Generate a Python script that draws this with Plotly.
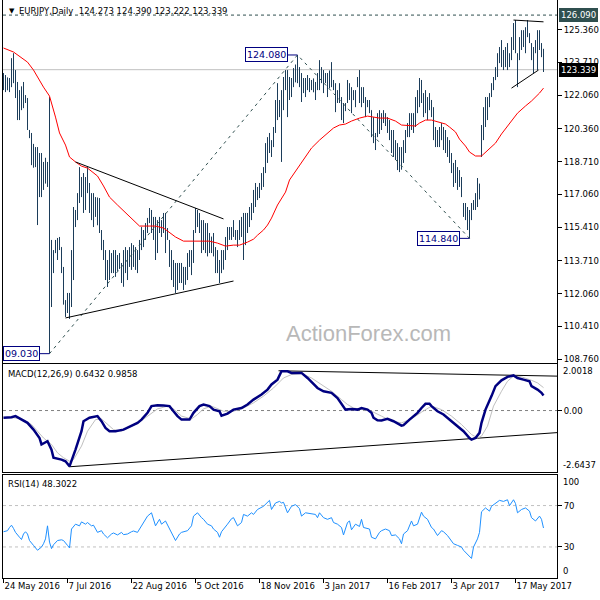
import numpy as np
import pandas as pd
import plotly.graph_objects as go

# ---------------- data ----------------
high = [123.17,123.07,122.95,122.92,123.92,124.17,123.32,122.72,122.31,122.50,
        122.72,122.06,121.91,120.30,120.15,119.60,119.44,119.44,119.14,119.14,
        118.69,118.90,118.69,121.96,114.76,114.25,114.76,114.86,114.91,114.40,
        113.40,111.73,112.09,112.09,114.25,116.42,116.27,117.12,118.43,117.93,
        118.13,117.93,118.43,117.63,117.12,117.12,116.92,116.90,116.87,115.26,
        114.76,114.25,113.75,114.25,114.10,114.25,114.25,114.00,114.10,113.60,
        114.25,114.40,114.25,114.40,114.60,114.50,114.40,114.25,114.76,115.41,
        115.26,115.61,115.87,116.37,116.27,115.92,115.92,115.76,115.92,115.76,
        116.12,116.12,115.36,114.76,114.25,113.75,113.60,113.60,113.60,113.60,
        113.40,113.40,114.10,114.25,114.25,115.26,116.37,116.27,116.12,115.76,
        115.76,115.61,115.61,115.11,114.93,115.11,114.40,114.25,113.75,114.25,
        114.25,114.91,115.41,115.41,115.41,115.76,115.26,115.26,115.76,115.92,
        116.12,116.12,116.12,116.42,116.62,117.28,117.63,117.43,117.63,118.13,
        118.43,119.64,119.94,120.15,119.79,120.45,121.81,122.66,121.81,122.31,
        122.97,123.32,123.32,122.97,122.92,123.42,123.60,124.08,123.47,123.17,
        122.92,122.92,123.07,122.92,122.82,122.90,122.72,123.17,123.82,123.47,
        123.32,123.17,123.17,123.30,123.72,122.82,122.66,122.31,122.66,121.96,
        121.66,121.66,122.82,122.66,122.46,122.31,122.31,122.97,123.32,122.46,
        122.46,121.96,121.81,121.81,121.30,120.95,120.15,121.15,121.30,121.15,
        121.30,121.15,120.95,120.80,120.30,120.30,119.79,119.64,119.44,119.44,
        119.79,120.30,120.65,121.15,121.15,121.15,121.96,122.31,122.92,122.82,
        122.16,122.31,121.96,122.16,121.81,121.45,120.45,120.30,120.45,120.65,
        120.45,120.30,119.94,119.79,119.14,118.64,118.79,118.43,118.28,117.93,
        116.62,116.62,116.42,116.27,116.62,116.77,117.12,117.88,117.60,120.55,
        121.45,121.96,121.96,122.16,122.66,122.97,123.47,124.17,124.48,124.83,
        124.33,124.48,124.68,124.17,124.98,125.69,125.84,124.17,124.98,125.33,
        125.33,125.48,125.84,125.18,124.68,124.48,124.83,125.33,125.33,124.68,124.390]
low = [122.31,122.21,122.30,122.21,122.46,122.66,121.91,120.80,120.80,121.30,
       121.40,121.66,120.30,119.89,118.53,118.40,118.43,115.51,116.92,116.92,
       117.28,117.60,117.43,109.03,111.38,113.09,114.10,113.75,114.25,113.09,
       111.50,110.88,111.08,110.78,111.38,112.74,115.41,115.76,116.62,116.92,
       116.12,116.27,117.12,116.12,115.76,115.41,115.92,115.50,115.11,114.25,
       113.75,112.74,112.39,112.74,113.09,113.09,112.90,113.20,113.30,112.59,
       112.40,113.09,112.74,113.40,113.25,113.40,113.25,113.09,113.75,114.25,
       114.40,114.76,115.11,115.61,115.11,114.76,113.75,114.10,115.11,114.91,
       115.11,114.10,114.76,113.40,112.74,112.39,112.09,112.24,112.59,112.59,
       112.24,112.50,112.74,113.40,112.99,113.60,115.11,115.41,115.11,114.10,
       114.25,114.10,113.93,114.10,114.10,113.93,113.09,113.09,112.59,113.09,
       113.26,113.75,114.25,114.76,114.76,114.91,114.76,114.40,114.76,114.91,
       113.75,114.50,115.11,115.41,115.76,116.12,116.42,116.77,116.87,117.28,
       117.43,118.13,118.64,119.14,118.94,119.44,120.15,120.80,120.95,118.69,
       121.30,122.31,120.95,121.81,121.96,122.46,122.70,122.66,122.46,121.71,
       122.16,121.96,122.31,122.21,122.31,122.20,121.81,122.31,122.31,122.66,
       122.16,122.66,121.96,122.40,122.46,122.31,121.20,121.66,121.66,120.80,
       120.65,121.25,121.66,121.81,121.15,121.81,121.45,122.46,121.66,121.45,
       121.66,120.95,121.45,121.15,119.94,119.64,119.29,119.94,120.10,120.30,
       120.65,120.50,120.15,119.79,119.14,118.94,118.79,118.28,118.18,118.30,
       118.64,119.14,119.94,119.94,120.30,120.15,120.45,121.15,121.45,121.66,
       120.95,121.15,120.80,121.30,120.95,119.79,119.44,119.44,119.44,119.79,
       119.29,119.14,118.94,118.64,118.13,117.43,117.63,117.28,117.43,116.92,
       115.92,115.76,115.26,114.84,115.76,116.27,116.27,116.42,116.80,118.94,
       119.79,120.45,120.80,121.45,121.96,122.31,122.82,122.97,123.67,123.47,
       123.32,123.47,123.32,123.47,123.82,124.33,124.17,122.46,123.82,124.33,
       124.48,124.17,124.98,124.68,123.82,123.17,124.17,123.32,124.33,123.97,123.222]
open_ = [122.40,122.90,122.40,122.80,122.60,123.70,122.90,122.10,121.20,121.90,
         122.20,121.80,121.90,120.30,120.00,118.80,119.30,118.60,117.60,118.90,
         117.40,118.30,117.90,118.60,113.30,113.20,114.10,114.50,114.30,114.40,
         113.30,111.70,111.20,111.90,111.50,114.00,116.00,115.80,116.90,117.60,
         117.20,116.50,117.70,117.40,116.40,116.90,115.80,116.60,115.80,115.20,
         114.40,114.00,112.90,113.40,113.90,113.30,114.00,113.20,113.80,113.50,
         112.90,113.90,113.50,113.50,114.20,113.60,114.10,113.50,113.90,114.60,
         115.10,114.80,115.40,115.70,116.00,115.40,115.60,114.20,115.50,115.40,
         115.60,115.30,114.90,114.70,113.60,113.00,113.30,112.40,113.20,112.80,
         113.40,112.60,113.10,113.90,113.60,114.00,115.20,116.10,115.60,115.70,
         114.40,115.50,114.50,115.10,114.30,114.70,114.20,113.40,113.70,113.10,
         113.90,113.80,114.80,115.20,114.90,115.20,115.00,114.90,114.80,115.60,
         115.10,115.90,115.20,115.90,116.20,116.40,117.10,117.00,117.20,117.50,
         118.00,118.30,119.50,119.20,119.70,119.50,120.30,121.60,121.20,120.50,
         122.00,122.60,122.90,122.60,122.10,122.70,123.20,123.00,123.40,122.70,
         122.50,122.40,122.70,122.50,122.60,122.40,122.30,122.50,123.00,122.70,
         123.10,122.70,123.00,122.40,123.00,122.60,122.50,121.70,122.00,121.90,
         121.00,121.40,121.70,122.40,122.00,121.80,122.10,122.50,122.80,121.90,
         122.20,121.80,121.50,121.60,121.30,120.20,120.00,119.90,120.90,120.40,
         120.90,121.00,120.70,120.40,119.90,119.50,119.70,119.00,118.50,118.90,
         119.20,119.60,120.10,120.40,120.90,120.60,120.90,121.80,122.00,121.80,
         122.10,121.20,121.90,121.30,121.80,121.20,120.00,119.80,120.10,119.80,
         120.40,119.50,119.90,119.20,118.90,118.30,117.70,118.40,117.50,117.90,
         116.50,116.20,116.00,115.60,116.00,116.40,116.50,116.90,117.30,119.40,
         120.20,121.10,121.40,121.70,122.00,122.50,122.80,123.30,124.00,124.10,
         123.80,124.00,123.80,124.10,123.90,124.80,125.50,124.10,123.90,124.80,
         124.90,125.10,125.00,125.10,124.60,124.00,124.20,124.70,124.40,124.60,124.273]
close = [122.90,122.40,122.80,122.60,123.70,122.90,122.10,121.20,121.90,122.20,
         121.80,121.90,120.40,120.00,118.80,119.30,118.60,117.60,118.90,117.40,
         118.30,117.90,118.50,113.30,112.00,114.00,114.50,114.00,114.70,113.30,
         111.80,111.10,111.90,111.00,114.00,116.20,115.70,116.90,117.60,117.20,
         116.50,117.70,117.40,116.40,116.90,115.70,116.60,115.80,115.30,114.40,
         114.00,112.90,113.40,113.90,113.30,114.00,113.20,113.80,113.50,112.90,
         113.90,113.50,113.00,114.20,113.60,114.10,113.50,113.90,114.60,115.10,
         114.70,115.40,115.70,116.00,115.40,115.60,114.20,115.50,115.40,115.60,
         115.30,114.90,115.10,113.60,113.00,113.30,112.40,113.20,112.80,113.40,
         112.60,113.10,113.90,113.60,114.00,115.10,116.10,115.60,115.90,114.40,
         115.50,114.50,115.30,114.30,114.70,114.20,113.40,113.90,113.10,113.90,
         113.60,114.80,115.20,114.90,115.20,115.00,114.90,114.60,115.60,115.10,
         115.90,115.00,115.90,116.20,116.40,117.10,117.00,117.20,117.50,118.00,
         118.30,119.50,119.00,119.80,119.20,120.30,121.60,121.20,121.40,122.00,
         122.60,122.90,122.60,122.10,122.70,123.20,123.00,123.60,122.70,122.50,
         122.40,122.70,122.50,122.60,122.40,122.30,122.50,123.00,122.70,123.10,
         122.30,123.00,122.40,123.00,122.60,122.50,121.50,122.00,121.90,121.00,
         121.40,121.50,122.40,122.00,121.60,122.10,121.80,122.80,121.90,122.20,
         121.80,121.30,121.60,121.30,120.20,120.00,119.60,120.90,120.40,120.90,
         121.00,120.70,120.40,119.90,119.50,119.90,119.00,118.50,118.90,119.20,
         119.60,120.10,120.40,120.90,120.60,120.90,121.80,122.00,121.80,122.40,
         121.20,122.00,121.20,121.90,121.20,120.00,119.80,120.10,119.70,120.40,
         119.50,119.90,119.20,118.90,118.30,117.60,118.40,117.50,117.90,117.00,
         116.20,116.00,115.60,116.00,116.40,116.50,116.90,117.30,117.40,120.20,
         121.10,121.40,121.70,122.00,122.50,122.80,123.30,124.00,124.10,123.80,
         124.00,123.80,124.40,123.90,124.80,125.50,124.40,123.10,124.80,124.90,
         125.10,124.50,125.60,124.90,124.00,123.40,124.70,123.60,125.00,124.20,123.339]

# moving average (red) read at bar positions
ma_idx = [0,5,12,15,20,23,26,28,31,33,36,39,42,47,50,53,57,61,65,68,71,76,80,82,86,90,93,98,103,107,
          111,115,118,122,125,127,130,132,134,137,141,143,147,151,154,158,162,165,168,171,174,178,182,186,
          188,192,196,199,203,206,208,211,214,218,221,223,226,228,231,233,236,239,242,246,249,253,257,261,
          264,268,270]
ma_val = [124.43,124.23,123.72,123.32,122.46,122.01,120.95,120.15,119.54,118.94,118.69,118.48,118.38,
          117.98,117.48,116.92,116.52,116.12,115.76,115.46,115.46,115.46,115.36,115.20,114.91,114.70,
          114.70,114.70,114.70,114.60,114.45,114.50,114.50,114.65,114.80,115.00,115.26,115.51,115.86,
          116.52,117.17,117.78,118.38,118.99,119.39,119.79,120.15,120.40,120.55,120.60,120.75,120.90,
          121.00,120.95,120.90,120.90,120.75,120.55,120.50,120.50,120.65,120.80,120.80,120.70,120.60,
          120.45,120.20,119.84,119.49,119.19,118.99,118.99,119.29,119.64,120.10,120.65,121.15,121.51,
          121.76,122.16,122.41]

# MACD(12,26,9)
macd_idx = [0,4,6,9,12,15,18,19,22,24,25,29,31,33,34,36,39,40,43,47,49,51,53,56,60,64,67,69,72,74,
            77,80,83,85,87,89,93,95,98,100,103,105,108,109,112,115,119,122,125,129,132,134,137,139,142,
            144,149,152,155,157,160,164,167,169,171,174,177,179,182,184,185,187,189,192,195,199,200,203,
            205,207,209,211,213,214,217,220,224,227,230,233,234,236,238,239,241,244,246,249,252,255,257,
            260,263,264,267,269,270]
macd_val = [-0.31,-0.29,-0.24,-0.39,-0.53,-0.82,-1.18,-1.46,-1.32,-1.68,-2.03,-2.11,-2.18,-2.40,-2.18,
            -1.68,-0.89,-0.46,-0.31,-0.24,-0.46,-0.75,-0.89,-0.89,-0.82,-0.67,-0.53,-0.39,-0.10,0.19,
            0.23,0.22,0.19,-0.03,-0.24,-0.39,-0.39,-0.10,0.19,0.26,0.19,0.04,-0.03,-0.22,-0.13,0.04,
            0.11,0.26,0.47,0.69,0.90,1.12,1.33,1.69,1.69,1.62,1.62,1.40,1.12,0.97,0.83,0.76,0.54,0.26,
            0.04,0.07,0.04,0.11,0.04,-0.10,-0.31,-0.42,-0.43,-0.36,-0.46,-0.65,-0.63,-0.39,-0.24,-0.10,
            0.11,0.29,0.29,0.19,-0.03,-0.17,-0.46,-0.67,-0.89,-1.18,-1.25,-1.18,-0.96,-0.53,0.04,0.62,
            1.05,1.30,1.45,1.51,1.40,1.33,1.26,1.05,0.90,0.76,0.6432]
signal_idx = [0,5,9,14,17,20,24,27,30,33,35,39,42,46,49,52,55,59,62,67,72,77,82,85,89,94,97,100,104,
              107,110,115,120,125,130,135,140,144,149,154,159,164,169,172,175,179,184,189,194,199,204,
              209,214,219,224,229,234,237,239,242,245,249,252,255,259,264,267,270]
signal_val = [-0.31,-0.31,-0.36,-0.60,-0.89,-1.18,-1.46,-1.82,-2.03,-2.18,-2.11,-1.53,-0.89,-0.39,-0.36,
              -0.60,-0.82,-0.89,-0.75,-0.56,-0.24,0.07,0.19,0.07,-0.24,-0.36,-0.17,0.07,0.19,0.07,-0.03,
              -0.03,0.11,0.33,0.62,0.97,1.40,1.55,1.59,1.40,1.12,0.83,0.47,0.26,0.11,0.04,-0.03,-0.24,
              -0.46,-0.53,-0.36,-0.07,0.19,0.04,-0.24,-0.60,-1.03,-1.18,-1.10,-0.67,0.19,0.83,1.26,1.48,
              1.45,1.30,1.19,0.9858]

# RSI(14)
rsi_idx = [0,2,3,4,5,6,8,9,10,11,12,13,15,17,19,20,21,22,23,24,25,27,29,30,32,33,34,36,38,39,41,42,44,
           45,47,49,50,52,54,55,57,59,60,62,64,65,67,69,70,72,74,75,76,78,79,81,83,84,86,88,89,92,94,95,
           97,99,100,102,104,105,107,108,109,112,114,115,117,119,120,122,124,125,127,130,133,134,136,138,
           139,140,142,144,146,148,149,151,153,156,157,158,160,162,164,165,167,169,170,172,173,174,176,
           178,179,180,183,184,186,188,189,191,193,194,196,198,199,200,202,204,205,207,209,210,212,214,
           215,217,219,220,222,224,225,227,229,230,232,234,235,237,238,239,241,243,244,247,248,250,252,
           253,255,256,257,259,261,263,264,266,268,269,270]
rsi_val = [44.7,45.7,48.8,51.0,47.9,44.1,39.4,37.2,42.5,44.7,42.5,36.2,31.5,26.8,29.9,33.1,37.8,50.4,
           34.7,28.4,32.1,36.2,36.9,36.2,31.5,29.0,47.3,52.0,50.4,54.2,52.0,53.6,50.4,51.0,44.1,45.7,
           42.5,38.8,42.5,43.5,41.6,44.1,41.9,42.5,44.7,45.4,44.1,50.4,54.2,59.8,63.0,56.7,50.4,56.7,
           52.0,55.1,47.3,44.1,36.2,42.5,44.1,45.7,50.4,59.8,63.0,58.3,56.7,52.0,50.4,47.3,44.1,39.4,
           44.7,52.0,57.3,58.3,50.4,53.6,61.4,59.8,63.0,61.4,66.2,69.3,75.0,66.2,72.5,74.0,72.5,73.1,
           63.0,69.3,70.9,67.0,59.8,63.0,62.1,61.4,58.3,63.0,58.3,56.7,58.3,53.6,52.0,48.8,41.6,53.6,
           55.1,46.6,52.0,49.8,56.7,48.8,47.3,39.4,37.8,44.1,45.7,47.3,45.7,41.0,41.6,37.8,33.1,42.5,
           45.7,55.1,50.4,52.0,63.6,59.8,56.7,48.8,47.3,41.0,45.7,44.7,41.0,36.2,33.1,31.5,29.9,26.8,
           22.7,18.9,29.9,37.8,44.1,64.0,67.7,64.6,69.3,74.0,75.0,74.0,75.6,69.9,75.6,72.0,63.0,66.2,
           67.7,64.6,58.3,55.1,59.8,56.7,48.3022]

# analyst drawings (bar index, price)
swing_idx = [23, 147, 233]
swing_val = [109.03, 124.08, 114.84]
tri_upper_idx, tri_upper_val = [36, 110], [118.69, 115.82]
tri_lower_idx, tri_lower_val = [31, 115], [110.83, 112.69]
top_line_idx, top_line_val = [255, 270], [125.84, 125.75]
bot_line_idx, bot_line_val = [254, 267.5], [122.41, 123.32]
macd_upper_idx, macd_upper_val = [137.5, 276.8], [1.71, 1.48]
macd_lower_idx, macd_lower_val = [32.7, 276.8], [-2.42, -0.95]
resistance = 126.09
last_price = 123.339

price_ticks = [125.36, 123.71, 122.06, 120.36, 118.71, 117.06, 115.41, 113.71, 112.06, 110.41, 108.76]
tick_dates = ["2016-05-24", "2016-07-07", "2016-08-22", "2016-10-05", "2016-11-18",
              "2017-01-03", "2017-02-16", "2017-04-03", "2017-05-17"]
tick_text = ["24 May 2016", "7 Jul 2016", "22 Aug 2016", "5 Oct 2016", "18 Nov 2016",
             "3 Jan 2017", "16 Feb 2017", "3 Apr 2017", "17 May 2017"]

# ---------------- figure ----------------
n = len(high)
dates = pd.bdate_range("2016-05-24", periods=n)
x = np.arange(n)
tick_pos = [dates.get_loc(pd.Timestamp(d)) for d in tick_dates]

FONT = "DejaVu Sans"
FS = 8.5
BAR = "#1c3d5a"
W, H = 600, 600
ML, MR, MT, MB = 3, 43, 0, 22
PW, PH = W - ML - MR, H - MT - MB


def px(xp):
    return (xp - ML) / PW


def py(yp):
    return (H - MB - yp) / PH


fig = go.Figure()
fig.add_trace(go.Ohlc(x=x, open=open_, high=high, low=low, close=close,
                      increasing=dict(line=dict(color=BAR, width=1)),
                      decreasing=dict(line=dict(color=BAR, width=1)),
                      tickwidth=0.05, hoverinfo="skip", showlegend=False,
                      xaxis="x", yaxis="y"))
fig.add_trace(go.Scatter(x=ma_idx, y=ma_val, mode="lines", line=dict(color="#ff0000", width=1),
                         hoverinfo="skip", showlegend=False, xaxis="x", yaxis="y"))
fig.add_trace(go.Scatter(x=swing_idx, y=swing_val, mode="lines",
                         line=dict(color="#2f4f4f", width=1, dash="3px,4px"),
                         hoverinfo="skip", showlegend=False, xaxis="x", yaxis="y"))
for xi, yi in [(tri_upper_idx, tri_upper_val), (tri_lower_idx, tri_lower_val),
               (top_line_idx, top_line_val), (bot_line_idx, bot_line_val)]:
    fig.add_trace(go.Scatter(x=xi, y=yi, mode="lines", line=dict(color="black", width=1),
                             hoverinfo="skip", showlegend=False, xaxis="x", yaxis="y"))

# MACD panel
for xi, yi in [(macd_upper_idx, macd_upper_val), (macd_lower_idx, macd_lower_val)]:
    fig.add_trace(go.Scatter(x=xi, y=yi, mode="lines", line=dict(color="black", width=1),
                             hoverinfo="skip", showlegend=False, xaxis="x2", yaxis="y2"))
fig.add_trace(go.Scatter(x=signal_idx, y=signal_val, mode="lines", line=dict(color="#c0c0c0", width=1),
                         hoverinfo="skip", showlegend=False, xaxis="x2", yaxis="y2"))
fig.add_trace(go.Scatter(x=macd_idx, y=macd_val, mode="lines", line=dict(color="#000080", width=2.5),
                         hoverinfo="skip", showlegend=False, xaxis="x2", yaxis="y2"))
# RSI panel
fig.add_trace(go.Scatter(x=rsi_idx, y=rsi_val, mode="lines", line=dict(color="#1e90ff", width=1),
                         hoverinfo="skip", showlegend=False, xaxis="x3", yaxis="y3"))

xr = [-0.25, 276.75]
axis_common = dict(showline=True, mirror=True, linecolor="black", linewidth=1,
                   showgrid=False, zeroline=False, fixedrange=True, automargin=False)
tickfont = dict(family=FONT, size=FS, color="black")

fig.update_layout(
    width=W, height=H, margin=dict(l=ML, r=MR, t=MT, b=MB),
    paper_bgcolor="white", plot_bgcolor="white",
    font=dict(family=FONT, size=FS, color="black"),
    showlegend=False,
    xaxis=dict(range=xr, domain=[0, 1], anchor="y", showticklabels=False, ticks="",
               rangeslider=dict(visible=False), **axis_common),
    xaxis2=dict(range=xr, domain=[0, 1], anchor="y2", showticklabels=False, ticks="", **axis_common),
    xaxis3=dict(range=xr, domain=[0, 1], anchor="y3", tickmode="array", tickvals=tick_pos,
                ticktext=tick_text, ticks="outside", ticklen=4, tickcolor="black",
                ticklabelposition="outside right", tickfont=tickfont, **axis_common),
    yaxis=dict(domain=[py(363), 1], range=[108.56, 126.85], side="right", anchor="x",
               tickmode="array", tickvals=price_ticks, ticktext=[f"{v:.3f}" for v in price_ticks],
               ticks="outside", ticklen=4, tickcolor="black", tickfont=tickfont, **axis_common),
    yaxis2=dict(domain=[py(472), py(364)], range=[-2.6437, 2.0018], side="right", anchor="x2",
                tickmode="array", tickvals=[0], ticktext=["0.00"], ticks="outside", ticklen=4,
                tickcolor="black", tickfont=tickfont, **axis_common),
    yaxis3=dict(domain=[0, py(474.5)], range=[0, 100], side="right", anchor="x3",
                tickmode="array", tickvals=[70, 30], ticktext=["70", "30"], ticks="outside", ticklen=4,
                tickcolor="black", tickfont=tickfont, **axis_common),
)

shapes = [
    dict(type="line", xref="x domain", yref="y", x0=0, x1=1, y0=last_price, y1=last_price,
         line=dict(color="#c0c0c0", width=1), layer="below"),
    dict(type="line", xref="x domain", yref="y", x0=0, x1=1, y0=resistance, y1=resistance,
         line=dict(color="#2f4f4f", width=1, dash="3px,3px")),
    dict(type="line", xref="x2 domain", yref="y2", x0=0, x1=1, y0=0, y1=0,
         line=dict(color="#808080", width=1, dash="3px,3px"), layer="below"),
    dict(type="line", xref="x3 domain", yref="y3", x0=0, x1=1, y0=70, y1=70,
         line=dict(color="#c0c0c0", width=1, dash="3px,3px"), layer="below"),
    dict(type="line", xref="x3 domain", yref="y3", x0=0, x1=1, y0=30, y1=30,
         line=dict(color="#c0c0c0", width=1, dash="3px,3px"), layer="below"),
]
# connectors from value boxes to swing bars
for si, sv in zip(swing_idx, swing_val):
    shapes.append(dict(type="line", xref="x", yref="y", x0=si - 5, x1=si, y0=sv, y1=sv,
                       line=dict(color="#000080", width=1)))
fig.update_layout(shapes=shapes)

ann = []
box_texts = ["09.030", "124.080", "114.840"]
for si, sv, t in zip(swing_idx, swing_val, box_texts):
    ann.append(dict(x=si - 5, y=sv, xref="x", yref="y", text=t, showarrow=False, xanchor="right",
                    yanchor="middle", font=dict(family=FONT, size=9.5, color="#000080"),
                    bgcolor="white", bordercolor="#000080", borderwidth=1, borderpad=1))
# right-axis highlighted values
ann.append(dict(x=1, y=resistance, xref="paper", yref="y", text="126.090", showarrow=False,
                xanchor="left", yanchor="middle", xshift=2,
                font=dict(family=FONT, size=FS, color="white"), bgcolor="#2f4f4f",
                bordercolor="#2f4f4f", borderwidth=1, borderpad=1))
ann.append(dict(x=1, y=last_price, xref="paper", yref="y", text="123.339", showarrow=False,
                xanchor="left", yanchor="middle", xshift=2,
                font=dict(family=FONT, size=FS, color="white"), bgcolor="black",
                bordercolor="black", borderwidth=1, borderpad=1))
# indicator scale labels at the window edges
for yref, yv, t, ya in [("y2", 2.0018, "2.0018", "top"), ("y2", -2.6437, "-2.6437", "bottom"),
                        ("y3", 100, "100", "top"), ("y3", 0, "0", "bottom")]:
    ann.append(dict(x=1, y=yv, xref="paper", yref=yref, text=t, showarrow=False,
                    xanchor="left", yanchor=ya, xshift=4, font=tickfont))
# panel titles
ann.append(dict(x=px(7), y=py(10.5), xref="paper", yref="paper", text="▼", showarrow=False,
                xanchor="left", yanchor="middle", font=dict(family=FONT, size=7, color="black")))
ann.append(dict(x=px(17), y=py(10.5), xref="paper", yref="paper",
                text="EURJPY,Daily  124.273 124.390 123.222 123.339", showarrow=False,
                xanchor="left", yanchor="middle", font=dict(family=FONT, size=FS, color="black")))
ann.append(dict(x=px(6), y=py(374), xref="paper", yref="paper", text="MACD(12,26,9) 0.6432 0.9858",
                showarrow=False, xanchor="left", yanchor="middle",
                font=dict(family=FONT, size=FS, color="black")))
ann.append(dict(x=px(6), y=py(484), xref="paper", yref="paper", text="RSI(14) 48.3022",
                showarrow=False, xanchor="left", yanchor="middle",
                font=dict(family=FONT, size=FS, color="black")))
# watermark
ann.append(dict(x=px(368), y=py(333), xref="paper", yref="paper", text="ActionForex.com",
                showarrow=False, xanchor="center", yanchor="middle",
                font=dict(family="Liberation Sans", size=22, color="#b8b8b8")))
fig.update_layout(annotations=ann)

fig.write_html("out.html", config={"displayModeBar": False, "staticPlot": True},
               post_script="document.body.style.margin='0';document.body.style.padding='0';")
